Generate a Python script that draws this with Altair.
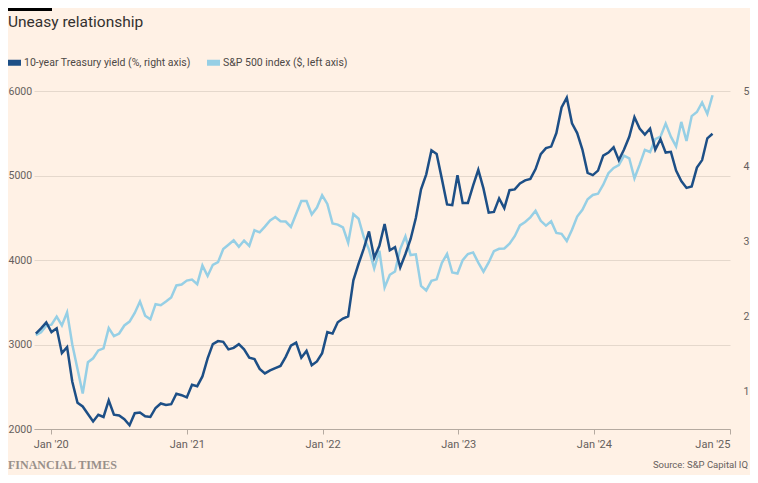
import altair as alt
import pandas as pd

# ---- data ----
dates = pd.date_range("2019-11-22", periods=131, freq="14D").strftime("%Y-%m-%d").tolist()

sp500 = [
    3110, 3146, 3221, 3235, 3330, 3226, 3380, 3000, 2711, 2420,
    2790, 2837, 2930, 2955, 3194, 3098, 3130, 3225, 3271, 3373,
    3508, 3341, 3298, 3477, 3465, 3509, 3557, 3699, 3709, 3756,
    3768, 3714, 3934, 3811, 3943, 3975, 4129, 4180, 4232, 4156,
    4230, 4166, 4352, 4327, 4395, 4468, 4509, 4459, 4455, 4391,
    4545, 4698, 4698, 4538, 4621, 4766, 4663, 4432, 4419, 4385,
    4204, 4543, 4488, 4272, 4123, 3901, 4109, 3675, 3825, 3863,
    4130, 4280, 4058, 4067, 3693, 3640, 3753, 3771, 3965, 4072,
    3852, 3840, 3999, 4071, 4090, 3970, 3862, 3971, 4105, 4133,
    4136, 4192, 4282, 4410, 4450, 4505, 4582, 4464, 4406, 4457,
    4320, 4309, 4224, 4358, 4514, 4595, 4719, 4770, 4784, 4891,
    5027, 5089, 5124, 5234, 5204, 4967, 5128, 5303, 5278, 5431,
    5460, 5615, 5459, 5344, 5634, 5408, 5703, 5751, 5864, 5729,
    5950,
]

treasury = [
    1.77, 1.84, 1.92, 1.79, 1.84, 1.51, 1.59, 1.13, 0.85, 0.80,
    0.70, 0.60, 0.69, 0.66, 0.88, 0.69, 0.68, 0.63, 0.55, 0.71,
    0.72, 0.67, 0.66, 0.78, 0.84, 0.82, 0.83, 0.97, 0.95, 0.92,
    1.09, 1.07, 1.20, 1.44, 1.63, 1.67, 1.66, 1.56, 1.58, 1.63,
    1.56, 1.45, 1.43, 1.30, 1.24, 1.28, 1.31, 1.34, 1.46, 1.61,
    1.65, 1.45, 1.54, 1.35, 1.40, 1.51, 1.79, 1.77, 1.92, 1.97,
    2.00, 2.48, 2.70, 2.90, 3.13, 2.78, 2.94, 3.23, 2.88, 2.92,
    2.65, 2.83, 3.03, 3.31, 3.69, 3.89, 4.21, 4.16, 3.83, 3.49,
    3.48, 3.88, 3.51, 3.51, 3.74, 3.95, 3.70, 3.38, 3.39, 3.57,
    3.44, 3.68, 3.69, 3.77, 3.81, 3.83, 3.96, 4.16, 4.24, 4.26,
    4.44, 4.78, 4.91, 4.57, 4.44, 4.22, 3.91, 3.88, 3.94, 4.14,
    4.18, 4.25, 4.08, 4.22, 4.39, 4.65, 4.50, 4.42, 4.50, 4.22,
    4.36, 4.18, 4.19, 3.94, 3.80, 3.71, 3.73, 3.98, 4.08, 4.37,
    4.43,
]

series_names = ["10-year Treasury yield (%, right axis)", "S&P 500 index ($, left axis)"]
series_colors = ["#1D4F86", "#96CFE5"]

left_ticks = [2000, 3000, 4000, 5000, 6000]
right_ticks = [1, 2, 3, 4, 5]
x_tick_years = [2020, 2021, 2022, 2023, 2024, 2025]

title_text = "Uneasy relationship"
source_text = "Source: S&P Capital IQ"
brand_text = "FINANCIAL TIMES"

# ---- chart ----
BG = "#FFF1E5"
GRID = "#E5D8CC"
AXIS = "#B5AAA0"
LABEL = "#66605C"
FONT = "Roboto"

df_sp = pd.DataFrame({"date": dates, "value": sp500, "series": series_names[1]})
df_ty = pd.DataFrame({"date": dates, "value": treasury, "series": series_names[0]})

x_enc = alt.X(
    "date:T",
    scale=alt.Scale(domain=["2019-11-17", "2025-01-01"]),
    axis=alt.Axis(
        values=[alt.DateTime(year=y, month=1, date=1, utc=True) for y in x_tick_years],
        labelExpr="utcFormat(datum.value, \"%b '%y\")",
        grid=False, domain=True,
        domainColor=AXIS, tickColor=AXIS, tickSize=5, labelPadding=4,
        labelFontSize=11, labelColor=LABEL, labelFont=FONT, title=None,
    ),
)

color_enc = alt.Color(
    "series:N",
    scale=alt.Scale(domain=series_names, range=series_colors),
    legend=alt.Legend(
        title=None, orient="none", legendX=-29, legendY=-38, direction="horizontal",
        symbolType="stroke", symbolSize=169, symbolStrokeWidth=6,
        labelFontSize=10.5, labelColor="#4D4845", labelFont=FONT, labelLimit=400,
        columnPadding=4, labelOffset=0,
    ),
)

sp_line = alt.Chart(df_sp).mark_line(strokeWidth=2.5).encode(
    x=x_enc,
    y=alt.Y(
        "value:Q",
        scale=alt.Scale(domain=[2000, 6000], nice=False, zero=False),
        axis=alt.Axis(
            values=left_ticks, format="d", grid=True, gridColor=GRID, domain=False, ticks=False,
            labelAlign="left", labelPadding=26, labelFontSize=10.5, labelColor=LABEL,
            labelFont=FONT, title=None, labelBaseline="middle",
        ),
    ),
    color=color_enc,
)

ty_line = alt.Chart(df_ty).mark_line(strokeWidth=2.5).encode(
    x=x_enc,
    y=alt.Y(
        "value:Q",
        scale=alt.Scale(domain=[0.5, 5], nice=False, zero=False),
        axis=alt.Axis(
            orient="right", values=right_ticks, grid=False, domain=False, ticks=False,
            labelPadding=13, labelFontSize=10.5, labelColor=LABEL, labelFont=FONT,
            title=None, labelBaseline="middle",
        ),
    ),
    color=color_enc,
)

title = alt.Chart(pd.DataFrame({"t": [title_text]})).mark_text(
    align="left", baseline="middle", fontSize=15.5, font=FONT, color="#33302E"
).encode(text="t:N", x=alt.value(-26), y=alt.value(-69))

bar = alt.Chart(pd.DataFrame({"t": [1]})).mark_rect(color="#000000").encode(
    x=alt.value(-26), x2=alt.value(18), y=alt.value(-83), y2=alt.value(-80)
)

brand = alt.Chart(pd.DataFrame({"t": [brand_text]})).mark_text(
    align="left", baseline="middle", fontSize=12, font="Liberation Serif",
    color="#99908A", fontWeight="bold",
).encode(text="t:N", x=alt.value(-26), y=alt.value(374))

source = alt.Chart(pd.DataFrame({"t": [source_text]})).mark_text(
    align="right", baseline="middle", fontSize=9.5, font=FONT, color=LABEL
).encode(text="t:N", x=alt.value(714), y=alt.value(374))

chart = (
    alt.layer(sp_line, ty_line, title, bar, brand, source)
    .resolve_scale(y="independent")
    .properties(
        width=696, height=338,
        padding={"left": 26, "top": 83, "right": 20, "bottom": 46},
        autosize=alt.AutoSizeParams(type="none"),
        background=BG,
    )
    .configure_view(stroke=None)
)

chart.save("out.html", embed_options={"renderer": "svg", "actions": False})
